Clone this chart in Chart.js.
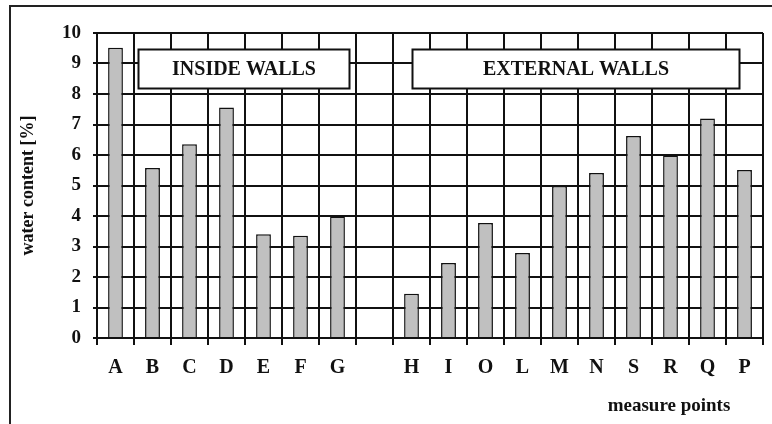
<!DOCTYPE html>
<html>
<head>
    <title>Water content</title>
    <meta charset="UTF-8">
    <style>
        body { margin: 0; background: #fff; }
        .chart-container { width: 772px; height: 424px; }
    </style>
    <script src="https://cdn.jsdelivr.net/npm/chart.js"></script>
    <script>
        // measure points (empty slot separates inside and external walls)
        const points = ['A', 'B', 'C', 'D', 'E', 'F', 'G', '', 'H', 'I', 'O', 'L', 'M', 'N', 'S', 'R', 'Q', 'P'];
        const waterContent = [9.52, 5.57, 6.35, 7.56, 3.40, 3.35, 3.98, null, 1.45, 2.46, 3.77, 2.79, 4.98, 5.41, 6.62, 5.98, 7.20, 5.51];
        const groupLabels = ['INSIDE WALLS', 'EXTERNAL WALLS'];
        const yTicks = [0, 1, 2, 3, 4, 5, 6, 7, 8, 9, 10];

        const serif = '"Liberation Serif", "Times New Roman", serif';

        // frame, group boxes and axis titles
        const decorations = {
            id: 'decorations',
            beforeDraw(chart) {
                const ctx = chart.ctx;
                ctx.save();
                ctx.fillStyle = '#fff';
                ctx.fillRect(0, 0, chart.width, chart.height);
                ctx.strokeStyle = '#222';
                ctx.lineWidth = 2;
                ctx.beginPath();
                ctx.moveTo(10, chart.height);
                ctx.lineTo(10, 6);
                ctx.lineTo(chart.width, 6);
                ctx.stroke();
                ctx.restore();
            },
            afterDatasetsDraw(chart) {
                const ctx = chart.ctx;
                const x = chart.scales.x, y = chart.scales.y;
                // box spans in category / value units
                const boxes = [[0.62, 6.32], [8.02, 16.86]];
                ctx.save();
                boxes.forEach((b, i) => {
                    const x1 = Math.round(x.getPixelForValue(b[0])) + 0.5;
                    const x2 = Math.round(x.getPixelForValue(b[1])) + 0.5;
                    const y1 = Math.round(y.getPixelForValue(9.48)) + 0.5;
                    const y2 = Math.round(y.getPixelForValue(8.2)) + 0.5;
                    ctx.fillStyle = '#fff';
                    ctx.fillRect(x1, y1, x2 - x1, y2 - y1);
                    ctx.strokeStyle = '#111';
                    ctx.lineWidth = 2;
                    ctx.strokeRect(x1, y1, x2 - x1, y2 - y1);
                    ctx.fillStyle = '#111';
                    ctx.font = 'bold 20px ' + serif;
                    ctx.textAlign = 'center';
                    ctx.textBaseline = 'middle';
                    ctx.fillText(groupLabels[i], (x1 + x2) / 2, (y1 + y2) / 2 + 1);
                });
                // y axis title
                ctx.translate(28, (chart.chartArea.top + chart.chartArea.bottom) / 2);
                ctx.rotate(-Math.PI / 2);
                ctx.font = 'bold 18px ' + serif;
                ctx.fillText('water content [%]', 0, 0);
                ctx.restore();
                // x axis title
                ctx.save();
                ctx.fillStyle = '#111';
                ctx.font = 'bold 19px ' + serif;
                ctx.textAlign = 'center';
                ctx.textBaseline = 'middle';
                ctx.fillText('measure points', 669, 406);
                ctx.restore();
            }
        };

        function renderChart() {
            const ctx = document.getElementById('waterChart').getContext('2d');
            new Chart(ctx, {
                type: 'bar',
                data: {
                    labels: points,
                    datasets: [{
                        data: waterContent,
                        backgroundColor: '#c0c0c0',
                        borderColor: '#111',
                        borderWidth: 1.5,
                        barPercentage: 0.4,
                        categoryPercentage: 1
                    }]
                },
                options: {
                    responsive: false,
                    animation: false,
                    layout: {
                        padding: { top: 33, right: 9, left: 0, bottom: 0 }
                    },
                    plugins: {
                        legend: { display: false },
                        tooltip: { enabled: false }
                    },
                    scales: {
                        x: {
                            offset: true,
                            afterFit: function (scale) { scale.height = 86; },
                            grid: {
                                offset: true,
                                color: '#111',
                                lineWidth: 2,
                                tickLength: 7
                            },
                            border: { color: '#111', width: 2 },
                            ticks: {
                                color: '#111',
                                padding: 11,
                                font: { family: serif, size: 20, weight: 'bold' }
                            }
                        },
                        y: {
                            min: 0,
                            max: 10,
                            afterFit: function (scale) { scale.width = 97; },
                            afterBuildTicks: function (scale) {
                                scale.ticks = yTicks.map(v => ({ value: v }));
                            },
                            grid: {
                                color: '#111',
                                lineWidth: 2,
                                tickLength: 4
                            },
                            border: { color: '#111', width: 2 },
                            ticks: {
                                color: '#111',
                                padding: 12,
                                font: { family: serif, size: 19, weight: 'bold' }
                            }
                        }
                    }
                },
                plugins: [decorations]
            });
        }

        window.onload = renderChart;
    </script>
</head>
<body>
<div class="chart-container">
    <canvas id="waterChart" width="772" height="424"></canvas>
</div>
</body>
</html>
